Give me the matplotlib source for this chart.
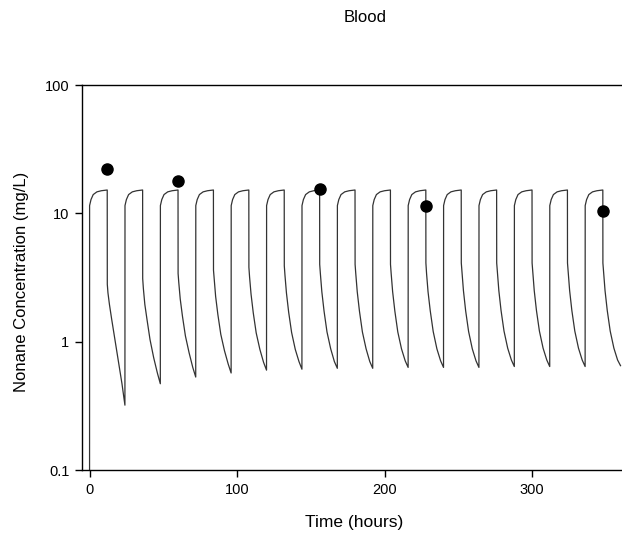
import matplotlib
matplotlib.use("Agg")
import matplotlib.pyplot as plt
import numpy as np

plt.rcParams['font.family'] = ['Liberation Sans', 'DejaVu Sans']

# ---- data ----
# offsets (h) within each 24 h cycle: exposure phase, then post-exposure decay
exposure_offsets = [0.05, 1.0, 2.5, 5.0, 8.0, 12.0]
exposure_conc = [11.5, 12.8, 14.0, 14.7, 15.0, 15.2]
decay_offsets = [12.05, 12.5, 13.5, 15.0, 17.0, 19.5, 22.0, 24.0]
decay_conc = [
    [2.8, 2.4, 1.95, 1.5, 1.08, 0.72, 0.47, 0.32],
    [3.1, 2.6, 1.95, 1.48, 1.04, 0.75, 0.57, 0.47],
    [3.4, 2.9, 2.15, 1.58, 1.11, 0.82, 0.63, 0.53],
    [3.6, 3.1, 2.25, 1.63, 1.14, 0.85, 0.67, 0.57],
    [3.8, 3.2, 2.35, 1.68, 1.17, 0.87, 0.69, 0.60],
    [3.9, 3.3, 2.4, 1.7, 1.18, 0.87, 0.70, 0.61],
    [4.0, 3.4, 2.45, 1.73, 1.19, 0.88, 0.70, 0.62],
    [4.0, 3.4, 2.45, 1.73, 1.19, 0.88, 0.70, 0.62],
    [4.0, 3.4, 2.45, 1.73, 1.19, 0.88, 0.71, 0.63],
    [4.1, 3.4, 2.45, 1.74, 1.20, 0.88, 0.71, 0.63],
    [4.1, 3.5, 2.5, 1.74, 1.20, 0.88, 0.71, 0.63],
    [4.1, 3.5, 2.5, 1.75, 1.21, 0.89, 0.72, 0.64],
    [4.1, 3.5, 2.5, 1.75, 1.21, 0.89, 0.72, 0.64],
    [4.1, 3.5, 2.5, 1.75, 1.21, 0.89, 0.72, 0.64],
    [4.1, 3.5, 2.5, 1.75, 1.21, 0.89, 0.72, 0.65],
]
start_conc = 0.001  # concentration before first exposure (below axis)

obs_time = [12, 60, 156, 228, 348]
obs_conc = [22.1, 17.8, 15.6, 11.5, 10.4]

x_ticks = [0, 100, 200, 300]
y_ticks = [0.1, 1, 10, 100]
y_ticklabels = ['0.1', '1', '10', '100']

# ---- build the simulated line ----
times, conc = [0.0], [start_conc]
for i, dec in enumerate(decay_conc):
    base = 24 * i
    times += [base + o for o in exposure_offsets]
    conc += exposure_conc
    times += [base + o for o in decay_offsets]
    conc += dec

fig = plt.figure(figsize=(6.22, 5.36), dpi=100)
ax = fig.add_axes([82 / 622, 66 / 536, 1 - 82 / 622, 385 / 536])

ax.plot(times, conc, color='#333333', lw=0.9, solid_joinstyle='round')
ax.plot(obs_time, obs_conc, 'o', color='black', markersize=8, zorder=3)

ax.set_yscale('log')
ax.set_ylim(0.1, 100)
ax.set_xlim(-5.1, 361)
ax.set_yticks(y_ticks)
ax.set_yticklabels(y_ticklabels)
ax.yaxis.set_minor_locator(matplotlib.ticker.NullLocator())
ax.set_xticks(x_ticks)

ax.spines['right'].set_visible(False)
for s in ['left', 'bottom', 'top']:
    ax.spines[s].set_linewidth(1.0)
ax.tick_params(axis='both', direction='out', length=5, width=1, labelsize=10.5, pad=4)

fig.text(365 / 622, 1 - 18 / 536, 'Blood', ha='center', va='center', fontsize=12)
fig.text(354 / 622, 1 - 523 / 536, 'Time (hours)', ha='center', va='center', fontsize=12.5)
fig.text(22 / 622, 1 - 282 / 536, 'Nonane Concentration (mg/L)', ha='center', va='center',
         rotation=90, fontsize=12)

fig.savefig('out.png', dpi=100)
